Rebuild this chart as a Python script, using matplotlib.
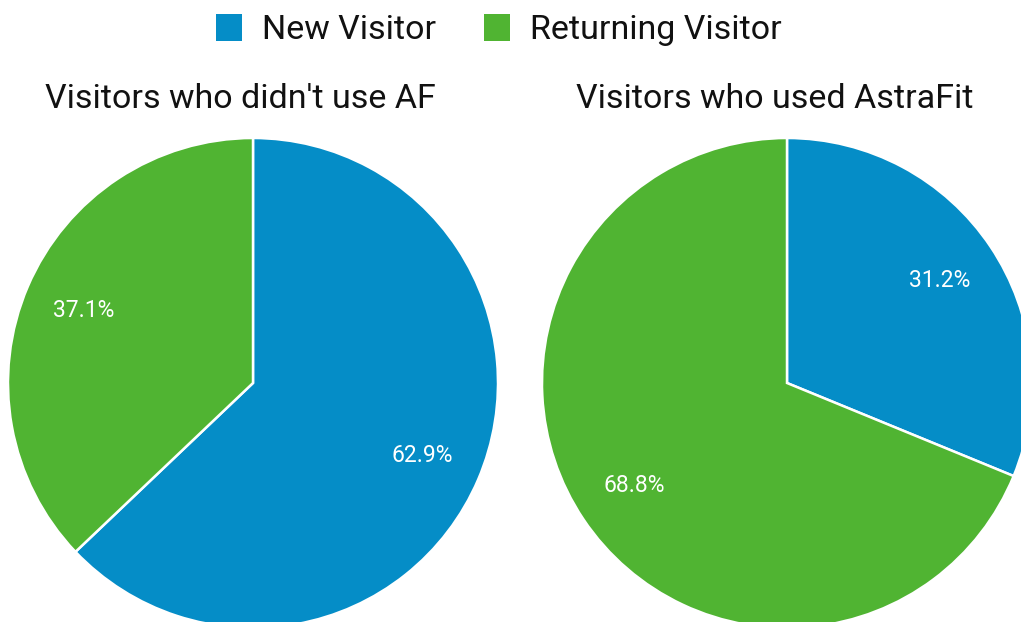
import matplotlib.pyplot as plt
from matplotlib.patches import Patch

plt.rcParams['font.family'] = ['Roboto', 'DejaVu Sans']

labels = ["New Visitor", "Returning Visitor"]
colors = ["#058dc7", "#50b432"]
titles = ["Visitors who didn't use AF", "Visitors who used AstraFit"]
no_af = [62.9, 37.1]
used_af = [31.2, 68.8]

W, H = 1021, 622
fig = plt.figure(figsize=(W / 100, H / 100), dpi=100)

r = 245
centers = [(253, 383), (787, 383)]
for (cx, cy), vals, title, tx in zip(centers, [no_af, used_af], titles, [240, 775]):
    ax = fig.add_axes([(cx - r) / W, (H - cy - r) / H, 2 * r / W, 2 * r / H])
    wedges, texts, autotexts = ax.pie(
        vals, colors=colors, startangle=90, counterclock=False,
        autopct='%.1f%%', pctdistance=0.75,
        wedgeprops=dict(edgecolor='white', linewidth=1.8),
        textprops=dict(color='white', fontsize=16.5))
    ax.set_xlim(-1, 1)
    ax.set_ylim(-1, 1)
    ax.set_aspect('equal')
    ax.axis('off')
    fig.text(tx / W, 1 - 99 / H, title, ha='center', va='center',
             fontsize=24.5, color='#111111')

handles = [Patch(facecolor=c, edgecolor='none') for c in colors]
fig.legend(handles, labels, loc='center', bbox_to_anchor=(499 / W, 1 - 30 / H),
           ncol=2, frameon=False, fontsize=24.5, handlelength=0.75, handleheight=0.85,
           handletextpad=0.6, columnspacing=1.4, labelcolor='#111111')

fig.savefig("out.png", dpi=100)
